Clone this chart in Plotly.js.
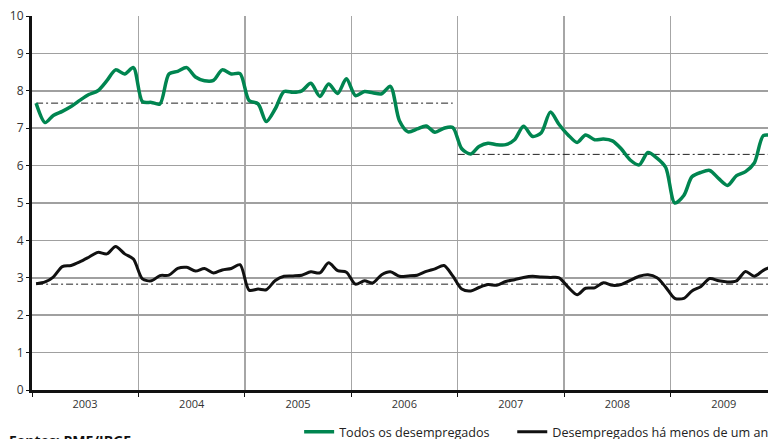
<!DOCTYPE html>
<html>
<head>
<meta charset="utf-8">
<script src="https://cdn.plot.ly/plotly-3.0.1.min.js"></script>
<style>html,body{margin:0;padding:0;background:#fff;}#chart{width:768px;height:439px;}</style>
</head>
<body>
<div id="chart"></div>
<script>
// Years covered, monthly data (Jan 2003 - Dec 2009)
const years = [2003, 2004, 2005, 2006, 2007, 2008, 2009];
const yearLabels = ["2003", "2004", "2005", "2006", "2007", "2008", "2009"];

// Taxa de desemprego: todos os desempregados (%)
const todos = [
  7.67, 7.15, 7.34, 7.45, 7.58, 7.75, 7.90, 8.00, 8.27, 8.56, 8.45, 8.62,
  7.71, 7.69, 7.65, 8.45, 8.52, 8.62, 8.37, 8.27, 8.28, 8.56, 8.45, 8.46,
  7.74, 7.65, 7.18, 7.52, 7.98, 7.96, 8.00, 8.20, 7.85, 8.18, 7.93, 8.32,
  7.87, 7.98, 7.95, 7.92, 8.12, 7.20, 6.90, 6.98, 7.06, 6.89, 7.00, 7.02,
  6.45, 6.31, 6.51, 6.60, 6.56, 6.56, 6.69, 7.05, 6.78, 6.88, 7.43, 7.10,
  6.82, 6.62, 6.82, 6.69, 6.71, 6.66, 6.45, 6.15, 6.02, 6.35, 6.20, 5.95,
  5.00, 5.20, 5.70, 5.82, 5.87, 5.65, 5.47, 5.73, 5.84, 6.07, 6.80, 6.80
];
// Desempregados há menos de um ano (%)
const menosUmAno = [
  2.84, 2.89, 3.02, 3.30, 3.33, 3.43, 3.55, 3.68, 3.64, 3.84, 3.64, 3.50,
  2.97, 2.92, 3.06, 3.07, 3.25, 3.28, 3.18, 3.25, 3.13, 3.21, 3.25, 3.35,
  2.67, 2.70, 2.68, 2.93, 3.04, 3.05, 3.07, 3.16, 3.13, 3.40, 3.19, 3.15,
  2.83, 2.92, 2.86, 3.08, 3.16, 3.04, 3.05, 3.07, 3.17, 3.24, 3.33, 3.05,
  2.70, 2.65, 2.74, 2.82, 2.80, 2.90, 2.95, 3.01, 3.04, 3.02, 3.01, 3.00,
  2.75, 2.55, 2.72, 2.73, 2.87, 2.80, 2.82, 2.93, 3.04, 3.08, 3.00, 2.75,
  2.45, 2.45, 2.65, 2.77, 2.98, 2.92, 2.89, 2.92, 3.17, 3.04, 3.20, 3.30
];
// Period averages (dash-dot reference lines)
const mediaTodos2003a2006 = 7.67;
const mediaTodos2007a2009 = 6.30;
const mediaMenosUmAno = 2.83;

// Monthly dates (mid-month)
const months = [];
years.forEach(y => { for (let m = 1; m <= 12; m++) months.push(y + "-" + String(m).padStart(2, "0") + "-15"); });
const yearMid = years.map(y => y + "-07-02");

const green = "#008550";
const dashdot = "7px,3px,2px,3px";

const traces = [
  {x: [months[0], months[47]], y: [mediaTodos2003a2006, mediaTodos2003a2006], mode: "lines",
   line: {color: "#222", width: 1, dash: dashdot}, showlegend: false, hoverinfo: "skip"},
  {x: ["2007-01-01", months[83]], y: [mediaTodos2007a2009, mediaTodos2007a2009], mode: "lines",
   line: {color: "#222", width: 1, dash: dashdot}, showlegend: false, hoverinfo: "skip"},
  {x: [months[0], months[83]], y: [mediaMenosUmAno, mediaMenosUmAno], mode: "lines",
   line: {color: "#222", width: 1, dash: dashdot}, showlegend: false, hoverinfo: "skip"},
  {x: months, y: todos, mode: "lines", name: "Todos os desempregados", legend: "legend",
   line: {color: green, width: 3.5, shape: "spline", smoothing: 0.8}},
  {x: months, y: menosUmAno, mode: "lines", name: "Desempregados há menos de um ano", legend: "legend2",
   line: {color: "#111", width: 3, shape: "spline", smoothing: 0.8}}
];

const legendStyle = {orientation: "h", xref: "container", yref: "container", y: 0.016,
  xanchor: "left", yanchor: "middle", font: {size: 12.6, color: "#222"}, bgcolor: "rgba(0,0,0,0)"};

const layout = {
  width: 768, height: 439,
  margin: {l: 32, r: 0, t: 16, b: 49, autoexpand: false},
  paper_bgcolor: "#fff", plot_bgcolor: "#fff",
  font: {family: "Open Sans, sans-serif", color: "#333"},
  showlegend: true,
  legend: Object.assign({}, legendStyle, {x: 0.3895}),
  legend2: Object.assign({}, legendStyle, {x: 0.667}),
  xaxis: {
    type: "date", range: ["2003-01-01", "2009-12-01"],
    tickmode: "array", tickvals: yearMid, ticktext: yearLabels,
    ticks: "outside", ticklen: 2, tickcolor: "rgba(0,0,0,0)",
    tickfont: {size: 11, color: "#333"},
    showgrid: false, zeroline: false,
    showline: true, linecolor: "#111", linewidth: 3,
    minor: {tick0: "2003-01-01", dtick: "M12", showgrid: true, gridcolor: "#a6a6a6", gridwidth: 1.5,
            ticks: "outside", ticklen: 4, tickcolor: "#111", tickwidth: 1}
  },
  yaxis: {
    range: [0, 10], dtick: 1, tick0: 0,
    ticks: "outside", ticklen: 3, tickcolor: "#111",
    tickfont: {size: 12, color: "#333"},
    showgrid: true, gridcolor: "#a0a0a0", gridwidth: 1.5,
    zeroline: false, showline: true, linecolor: "#111", linewidth: 3
  },
  annotations: [
    {text: "<b>Fontes: PME/IBGE</b>", xref: "paper", yref: "paper", x: -0.034, y: -0.105,
     xanchor: "left", yanchor: "top", showarrow: false, font: {size: 14, color: "#111"}}
  ]
};

Plotly.newPlot("chart", traces, layout, {staticPlot: true, displayModeBar: false});
</script>
</body>
</html>
